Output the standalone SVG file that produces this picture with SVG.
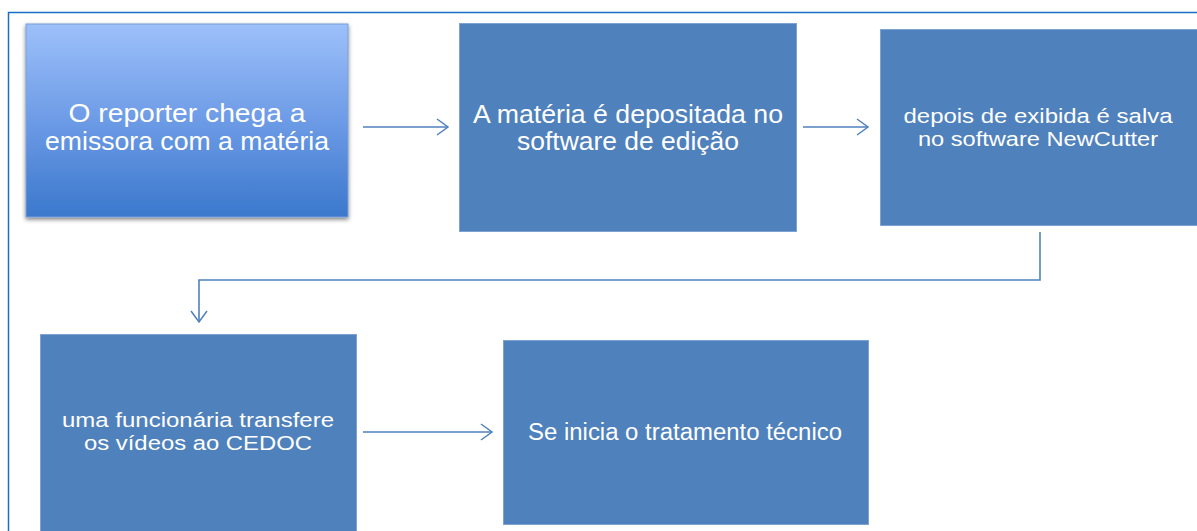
<svg xmlns="http://www.w3.org/2000/svg" width="1197" height="531" viewBox="0 0 1197 531">
<defs>
<linearGradient id="g1" x1="0" y1="0" x2="0" y2="1">
<stop offset="0" stop-color="#9dc0fa"/>
<stop offset="0.5" stop-color="#6d9be6"/>
<stop offset="1" stop-color="#3b78cc"/>
</linearGradient>
<filter id="sh" x="-10%" y="-10%" width="120%" height="120%">
<feGaussianBlur in="SourceAlpha" stdDeviation="2"/>
<feOffset dx="0" dy="2"/>
<feComponentTransfer><feFuncA type="linear" slope="0.5"/></feComponentTransfer>
<feMerge><feMergeNode/><feMergeNode in="SourceGraphic"/></feMerge>
</filter>
<marker id="ah" markerWidth="20" markerHeight="20" refX="15" refY="10" orient="auto" markerUnits="userSpaceOnUse">
<path d="M4,2 L15,10 L4,18" fill="none" stroke="#4f81bd" stroke-width="1.5"/>
</marker>
<style>
.box{fill:#4f81bd;stroke:#7ea2d2;stroke-width:1}
.t{font-family:"Liberation Sans",Arial,sans-serif;fill:#ffffff;text-anchor:middle}
.c{fill:none;stroke:#4f81bd;stroke-width:1.6}
</style>
</defs>
<rect width="1197" height="531" fill="#ffffff"/>
<path d="M8.5,540 L8.5,12.5 L1205,12.5" fill="none" stroke="#1a6fc4" stroke-width="1.5"/>
<g id="connectors">
<line class="c" x1="363" y1="127" x2="448" y2="127" marker-end="url(#ah)"/>
<line class="c" x1="803" y1="127" x2="868" y2="127" marker-end="url(#ah)"/>
<polyline class="c" points="1040,232 1040,280 199,280 199,322" marker-end="url(#ah)"/>
<line class="c" x1="363" y1="432" x2="492" y2="432" marker-end="url(#ah)"/>
</g>
<g id="n1">
<rect x="26" y="24" width="322" height="193" fill="url(#g1)" stroke="#7a9fd8" stroke-width="1" filter="url(#sh)"/>
<text class="t" font-size="26" x="187" y="122" textLength="237" lengthAdjust="spacingAndGlyphs">O reporter chega a</text>
<text class="t" font-size="26" x="187" y="150" textLength="284" lengthAdjust="spacingAndGlyphs">emissora com a matéria</text>
</g>
<g id="n2">
<rect class="box" x="459.5" y="23.5" width="337" height="208"/>
<text class="t" font-size="26" x="628" y="122.5" textLength="310" lengthAdjust="spacingAndGlyphs">A matéria é depositada no</text>
<text class="t" font-size="26" x="628" y="150" textLength="222" lengthAdjust="spacingAndGlyphs">software de edição</text>
</g>
<g id="n3">
<rect class="box" x="880.5" y="29.5" width="320" height="196"/>
<text class="t" font-size="20.5" x="1038" y="122.5" textLength="269" lengthAdjust="spacingAndGlyphs">depois de exibida é salva</text>
<text class="t" font-size="20.5" x="1038" y="146" textLength="240" lengthAdjust="spacingAndGlyphs">no software NewCutter</text>
</g>
<g id="n4">
<rect class="box" x="40.5" y="334.5" width="316" height="200"/>
<text class="t" font-size="20" x="198" y="427" textLength="272" lengthAdjust="spacingAndGlyphs">uma funcionária transfere</text>
<text class="t" font-size="20" x="198" y="450" textLength="228" lengthAdjust="spacingAndGlyphs">os vídeos ao CEDOC</text>
</g>
<g id="n5">
<rect class="box" x="503.5" y="340.5" width="365" height="184"/>
<text class="t" font-size="23" x="685" y="440" textLength="314" lengthAdjust="spacingAndGlyphs">Se inicia o tratamento técnico</text>
</g>
</svg>
